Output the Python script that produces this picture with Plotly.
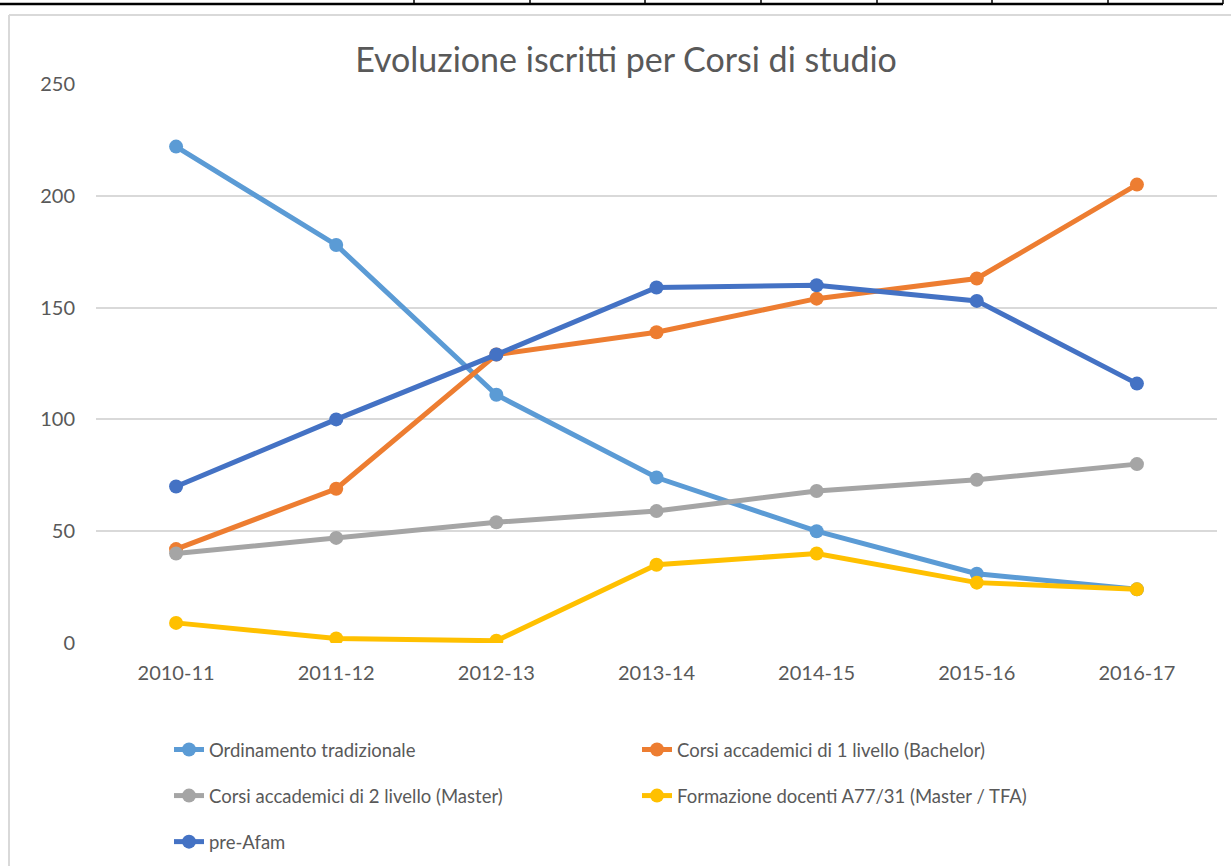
import plotly.graph_objects as go

# categories (academic years)
anni = ["2010-11", "2011-12", "2012-13", "2013-14", "2014-15", "2015-16", "2016-17"]

# enrolled students per course type
ordinamento = [222, 178, 111, 74, 50, 31, 24]
bachelor = [42, 69, 129, 139, 154, 163, 205]
master = [40, 47, 54, 59, 68, 73, 80]
formazione = [9, 2, 1, 35, 40, 27, 24]
pre_afam = [70, 100, 129, 159, 160, 153, 116]

y_ticks = [0, 50, 100, 150, 200, 250]

W, H = 1231, 866
FONT = "Lato"
TXT = "#595959"
GRID = "#D9D9D9"

series = [
    ("Ordinamento tradizionale", ordinamento, "#5B9BD5", "legend"),
    ("Corsi accademici di 1 livello (Bachelor)", bachelor, "#ED7D31", "legend2"),
    ("Corsi accademici di 2 livello (Master)", master, "#A5A5A5", "legend"),
    ("Formazione docenti A77/31 (Master / TFA)", formazione, "#FFC000", "legend2"),
    ("pre-Afam", pre_afam, "#4472C4", "legend"),
]

fig = go.Figure()

for i, (name, vals, color, leg) in enumerate(series):
    fig.add_trace(
        go.Scatter(
            x=anni,
            y=vals,
            name=name,
            mode="lines+markers",
            line=dict(color=color, width=5),
            marker=dict(color=color, size=14),
            legend=leg,
            legendgroup="g%d" % i,
        )
    )


def px(x):
    return x / W


def py(y):
    return 1 - y / H


# chart frame and the table border above it
shapes = [
    dict(type="line", xref="paper", yref="paper", x0=px(0), x1=px(1223), y0=py(4), y1=py(4),
         line=dict(color="black", width=2.5)),
    dict(type="line", xref="paper", yref="paper", x0=px(9), x1=px(1231), y0=py(15), y1=py(15),
         line=dict(color=GRID, width=2)),
    dict(type="line", xref="paper", yref="paper", x0=px(9), x1=px(9), y0=py(15), y1=py(866),
         line=dict(color=GRID, width=2)),
]
for xc in [414, 530, 645, 761, 877, 992, 1108, 1223]:
    shapes.append(dict(type="line", xref="paper", yref="paper", x0=px(xc), x1=px(xc),
                       y0=py(0), y1=py(4), line=dict(color="black", width=1.5)))

legend_style = dict(
    yref="container",
    xref="container",
    y=py(731),
    xanchor="left",
    yanchor="top",
    orientation="v",
    tracegroupgap=19,
    font=dict(size=18.5, color=TXT),
    bgcolor="rgba(0,0,0,0)",
)

fig.update_layout(
    width=W,
    height=H,
    margin=dict(l=0, r=0, t=0, b=0, autoexpand=False),
    paper_bgcolor="white",
    plot_bgcolor="white",
    font=dict(family=FONT, color=TXT, size=20),
    title=dict(
        text="Evoluzione iscritti per Corsi di studio",
        x=px(626),
        y=py(60),
        xanchor="center",
        yanchor="middle",
        font=dict(family=FONT, size=34, color=TXT),
    ),
    xaxis=dict(
        type="category",
        domain=[px(96), px(1217)],
        range=[-0.5, 6.5],
        showgrid=False,
        showline=False,
        zeroline=False,
        ticks="",
        ticklabelstandoff=16,
        tickfont=dict(size=20, color=TXT),
        automargin=False,
        fixedrange=True,
    ),
    yaxis=dict(
        domain=[py(643), py(84)],
        range=[0, 250],
        tickvals=y_ticks,
        showgrid=True,
        gridcolor=GRID,
        gridwidth=1.5,
        zeroline=False,
        showline=False,
        ticks="",
        ticklabelstandoff=20,
        tickfont=dict(size=20, color=TXT),
        automargin=False,
        fixedrange=True,
    ),
    legend=dict(legend_style, x=px(169)),
    legend2=dict(legend_style, x=px(637)),
    shapes=shapes,
    showlegend=True,
)

# the page gets no default body margin so the figure sits at the window origin
fig.write_html(
    "out.html",
    config={"displayModeBar": False},
    post_script="document.body.style.margin='0px';",
)
